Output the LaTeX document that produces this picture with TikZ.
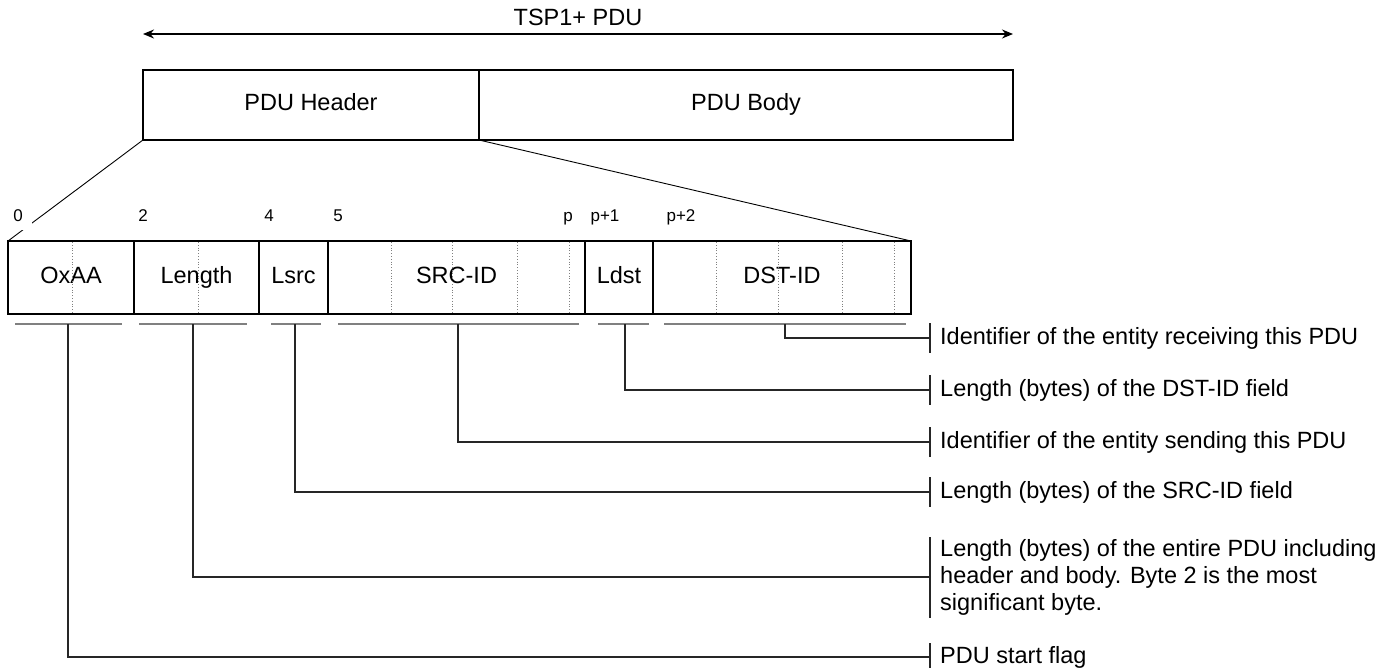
\documentclass[tikz,border=0pt]{standalone}
\usepackage{fontspec}
\setmainfont{Liberation Sans}
\usetikzlibrary{arrows.meta}
\begin{document}
\begin{tikzpicture}[x=1pt,y=-1pt,
  bigfont/.style={font=\fontsize{23.5}{27}\selectfont},
  numfont/.style={font=\fontsize{17}{20}\selectfont},
  field/.style={draw, line width=1.6pt, bigfont, inner sep=0pt, outer sep=0pt,
    anchor=north west, minimum height=73pt, text height=17pt, text depth=5pt},
  pdubox/.style={draw, line width=1.6pt, bigfont, inner sep=0pt, outer sep=0pt,
    anchor=north west, minimum height=70pt, text height=17pt, text depth=5pt},
  sub/.style={draw=gray, dotted, line width=0.8pt},
  brk/.style={draw=gray, line width=1.6pt},
  stem/.style={draw=black!85, line width=1.1pt},
  tickbar/.style={draw=black!85, line width=1.1pt},
  lab/.style={bigfont, anchor=west, inner sep=0pt, align=left},
  num/.style={numfont, inner sep=0pt, text height=12pt, text depth=4pt},
  zoomline/.style={draw, line width=0.9pt}
]
\useasboundingbox (0,0) rectangle (1380,668);

% top arrow and title
\node[bigfont, text height=17pt, text depth=5pt] (title) at (578,20) {TSP1+ PDU};
\coordinate (aL) at (143,34);
\coordinate (aR) at (1013,34);
\draw[line width=1.6pt, {Stealth[length=11pt,width=9pt]}-{Stealth[length=11pt,width=9pt]}] (aL) -- (aR);

% PDU header / body
\node[pdubox, minimum width=336pt] (hdr) at (143,70) {PDU Header};
\node[pdubox, minimum width=534pt] (body) at (479,70) {PDU Body};

% header fields
\node[field, minimum width=126pt] (f0) at (8,241) {OxAA};
\node[field, minimum width=125pt] (f1) at (134,241) {Length};
\node[field, minimum width=69pt]  (f2) at (259,241) {Lsrc};
\node[field, minimum width=257pt] (f3) at (328,241) {SRC-ID};
\node[field, minimum width=68pt]  (f4) at (585,241) {Ldst};
\node[field, minimum width=258pt] (f5) at (653,241) {DST-ID};

% byte subdivisions
\foreach \x in {72,198,391,452,517,569,716,778,842,894}
  \draw[sub] (\x,242) -- (\x,313);

% zoom lines
\draw[zoomline] (hdr.south west) -- (f0.north west);
\draw[zoomline] (hdr.south east) -- (f5.north east);

% byte numbers
\node[num, fill=white, minimum width=28pt, minimum height=24pt] (n0) at (18,218) {0};
\node[num] (n2) at (143,218) {2};
\node[num] (n4) at (269,218) {4};
\node[num] (n5) at (338,218) {5};
\node[num] (np) at (568,218) {p};
\node[num] (np1) at (605,218) {p+1};
\node[num] (np2) at (681,218) {p+2};

% brackets under fields
\draw[brk] (15,324) -- (122,324);
\draw[brk] (139,324) -- (247,324);
\draw[brk] (271,324) -- (321,324);
\draw[brk] (338,324) -- (579,324);
\draw[brk] (598,324) -- (649,324);
\draw[brk] (664,324) -- (906,324);

\coordinate (b0) at (68,324);
\coordinate (b1) at (193,324);
\coordinate (b2) at (295,324);
\coordinate (b3) at (458,324);
\coordinate (b4) at (625,324);
\coordinate (b5) at (785,324);

% description labels
\node[lab] (d5) at (940,338) {Identifier of the entity receiving this PDU};
\node[lab] (d4) at (940,390) {Length (bytes) of the DST-ID field};
\node[lab] (d3) at (940,442) {Identifier of the entity sending this PDU};
\node[lab] (d2) at (940,492) {Length (bytes) of the SRC-ID field};
\node[lab] (d1) at (940,577) {Length (bytes) of the entire PDU including\\header and body. Byte 2 is the most\\significant byte.};
\node[lab] (d0) at (940,657) {PDU start flag};

\coordinate (t5) at (930,338);
\coordinate (t4) at (930,390);
\coordinate (t3) at (930,442);
\coordinate (t2) at (930,492);
\coordinate (t1) at (930,577);
\coordinate (t0) at (930,657);

% tick bars
\draw[tickbar] (930,323) -- (930,353);
\draw[tickbar] (930,375) -- (930,405);
\draw[tickbar] (930,427) -- (930,457);
\draw[tickbar] (930,477) -- (930,507);
\draw[tickbar] (930,537) -- (930,618);
\draw[tickbar] (930,643) -- (930,668);

% stems
\draw[stem] (b5) |- (t5);
\draw[stem] (b4) |- (t4);
\draw[stem] (b3) |- (t3);
\draw[stem] (b2) |- (t2);
\draw[stem] (b1) |- (t1);
\draw[stem] (b0) |- (t0);
\end{tikzpicture}
\end{document}
